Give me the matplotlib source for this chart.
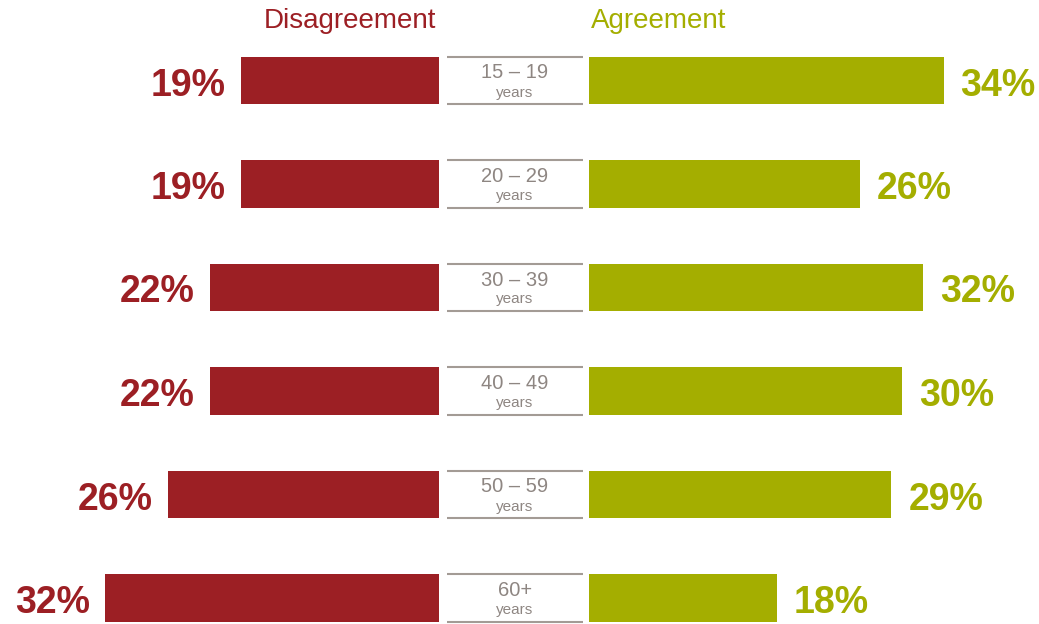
import matplotlib
matplotlib.use("Agg")
import matplotlib.pyplot as plt

plt.rcParams['font.family'] = ['Liberation Sans', 'DejaVu Sans']

age_groups = ["15 – 19", "20 – 29", "30 – 39", "40 – 49", "50 – 59", "60+"]
age_sub = ["years"] * 6
disagreement = [19, 19, 22, 22, 26, 32]
agreement = [34, 26, 32, 30, 29, 18]

RED = "#9C1F24"
GREEN = "#A4AE00"
GRAY_LINE = "#A39B95"
GRAY_TEXT = "#8E8682"

W, H = 1039, 624
DPI = 100
fig = plt.figure(figsize=(W / DPI, H / DPI), dpi=DPI)

px_per_pct = 10.43
row0, row_step = 80.5, 103.5
ylim = ((H - row0) / row_step, -row0 / row_step)
bar_h = 47.5 / row_step

def px_axes(x0, x1):
    return fig.add_axes([x0 / W, 0, (x1 - x0) / W, 1])

axL = px_axes(0, 439)
axR = px_axes(589, W)
axM = px_axes(447, 583)
for ax in (axL, axR, axM):
    ax.set_ylim(*ylim)
    ax.axis("off")

axL.set_xlim(439 / px_per_pct, 0)
axR.set_xlim(0, (W - 589) / px_per_pct)
axM.set_xlim(0, 1)

ys = list(range(len(age_groups)))
axL.barh(ys, disagreement, height=bar_h, color=RED)
axR.barh(ys, agreement, height=bar_h, color=GREEN)

for y, v in zip(ys, disagreement):
    axL.annotate(f"{v}%", (v, y), xytext=(-15, -15), textcoords="offset pixels",
                 ha="right", va="baseline", fontsize=27, fontweight="bold", color=RED)
for y, v in zip(ys, agreement):
    axR.annotate(f"{v}%", (v, y), xytext=(17, -15), textcoords="offset pixels",
                 ha="left", va="baseline", fontsize=27, fontweight="bold", color=GREEN)

for y, g, s in zip(ys, age_groups, age_sub):
    axM.hlines([y - bar_h / 2, y + bar_h / 2], 0, 1, color=GRAY_LINE, lw=1.5)
    axM.annotate(g, (0.5, y), xytext=(0, 2), textcoords="offset pixels",
                 ha="center", va="baseline", fontsize=14.5, color=GRAY_TEXT)
    axM.annotate(s, (0.5, y), xytext=(0, -16), textcoords="offset pixels",
                 ha="center", va="baseline", fontsize=11, color=GRAY_TEXT)

fig.text(349.5 / W, 1 - 28 / H, "Disagreement", ha="center", va="baseline",
         fontsize=20, color=RED)
fig.text(591 / W, 1 - 28 / H, "Agreement", ha="left", va="baseline",
         fontsize=20, color=GREEN)

fig.savefig("out.png", dpi=DPI)
